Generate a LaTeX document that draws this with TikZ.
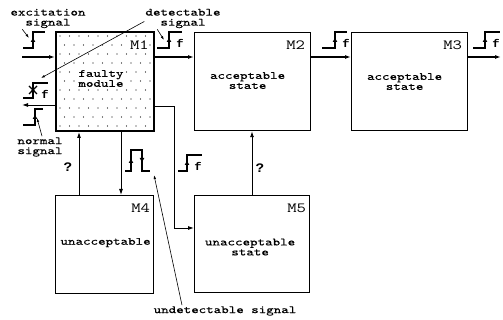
\documentclass[tikz,border=0pt]{standalone}
\usepackage{fontspec}
\setmainfont{Latin Modern Mono}[FakeStretch=1.3,FakeBold=0.25]
\newfontfamily\mfont{Latin Modern Mono}[FakeStretch=1.3]
\newfontfamily\flagfont{Liberation Mono}[FakeStretch=1.1]
\usetikzlibrary{arrows.meta}

\tikzset{
  >={Latex[length=6pt,width=4pt]},
  module/.style={draw,line width=1.2pt,anchor=north west,inner sep=0pt},
  lbl/.style={font=\fontsize{11}{10}\selectfont,align=center,inner sep=1pt},
  mname/.style={font=\mfont\fontsize{14}{14}\selectfont,anchor=base east,inner sep=0pt},
  flag/.style={font=\flagfont\bfseries\fontsize{11}{11}\selectfont,inner sep=0pt},
  qmark/.style={font=\flagfont\bfseries\fontsize{13}{13}\selectfont,inner sep=0pt},
  sig/.style={line width=1.8pt},
  sigtip/.style={-{Latex[length=5pt,width=5pt]},line width=1.2pt},
  lead/.style={-{Latex[length=4pt,width=2.5pt]},line width=0.6pt},
  link/.style={->,line width=0.9pt},
  main/.style={->,line width=1.6pt}
}

\begin{document}
\begin{tikzpicture}[x=1pt,y=-1pt]
  \useasboundingbox (0,0) rectangle (503,320);

  % modules
  \foreach \r in {0,...,10}{
    \foreach \c in {0,...,9}{
      \fill ({60+9.5*\c+4.5*mod(\r,2)},{36+9*\r}) circle (0.6pt);
    }
  }
  \node[module,line width=2pt,minimum width=98pt,minimum height=99pt] (m1) at (55,31) {};
  \node[module,minimum width=116pt,minimum height=98pt] (m2) at (194,32) {};
  \node[module,minimum width=116pt,minimum height=98pt] (m3) at (351,32) {};
  \node[module,minimum width=98pt,minimum height=98pt] (m4) at (55,195) {};
  \node[module,minimum width=115pt,minimum height=97pt] (m5) at (194,195) {};

  \node[lbl,fill=white] (t1) at ([shift={(-4,-3)}]m1.center) {faulty\\module};
  \node[lbl] (t2) at ([shift={(-5,-1)}]m2.center) {acceptable\\state};
  \node[lbl] (t3) at ([shift={(-5,0)}]m3.center) {acceptable\\state};
  \node[lbl] (t4) at ([shift={(1,-2)}]m4.center) {unacceptable};
  \node[lbl] (t5) at ([shift={(-2,3)}]m5.center) {unacceptable\\state};

  \node[mname,fill=white] at ([shift={(-6,19)}]m1.north east) {M1};
  \node[mname] at ([shift={(-6,18)}]m2.north east) {M2};
  \node[mname] at ([shift={(-6,18)}]m3.north east) {M3};
  \node[mname] at ([shift={(-4,18)}]m4.north east) {M4};
  \node[mname] at ([shift={(-4,18)}]m5.north east) {M5};

  % signal path
  \coordinate (in) at (22,57);
  \coordinate (out) at (501,57);
  \draw[main] (in) -- (in -| m1.west);
  \draw[main] (in -| m1.east) -- (in -| m2.west);
  \draw[main] (in -| m2.east) -- (in -| m3.west);
  \draw[main] (in -| m3.east) -- (out);

  \coordinate (nout) at (22,105);
  \draw[link] (nout -| m1.west) -- (nout);

  \coordinate (turn) at (174,106);
  \coordinate (low) at (174,228);
  \draw[link] (turn -| m1.east) -- (turn) -- (low) -- (low -| m5.west);

  \draw[link] ([xshift=24pt]m4.north west) -- ([xshift=24pt]m1.south west);
  \draw[link] ([xshift=66pt]m1.south west) -- ([xshift=66pt]m4.north west);
  \draw[link] ([xshift=58pt]m5.north west) -- ([xshift=58pt]m2.south west);

  \node[qmark] (q4) at (68,167) {?};
  \node[qmark] (q5) at (260,168) {?};

  % step signals
  \foreach \x/\y/\a/\b in {33/48/10/12,169/48/12/13,335/48/13/12,485/48/12/15,187/171/9/15,35/125/12/8}{
    \draw[sig] (\x-\a,\y) -- (\x,\y) -- (\x,\y-16) -- (\x+\b,\y-16);
    \draw[sigtip] (\x,\y-2) -- (\x,\y-11);
  }
  \foreach \x/\y in {169/48,335/48,485/48,187/171}{
    \node[flag] at (\x+11,\y-5) {f};
  }

  % lost signal
  \draw[sig] (23,98) -- (33,98) -- (33,83) -- (48,83);
  \draw[sigtip] (33,96) -- (33,87);
  \draw[line width=1.2pt] (29,86) -- (37,94) (29,94) -- (37,86);
  \node[flag] (fx) at (45,94) {f};
  \coordinate (lost) at (41,78);

  % pulse
  \draw[sig] (125,171) -- (131,171) -- (131,150) -- (142,150) -- (142,171) -- (150,171);
  \draw[sigtip] (131,169) -- (131,158);
  \draw[sigtip] (142,152) -- (142,163);
  \coordinate (pulse) at (154,175);

  % labels
  \node[lbl] (exc) at (48,18.5) {excitation\\signal};
  \node[lbl] (det) at (183,18.5) {detectable\\signal};
  \node[lbl] (nrm) at (40,147) {normal\\signal};
  \node[lbl] (und) at (225,311) {undetectable signal};

  \draw[lead] ([xshift=13pt]exc.south west) -- (29,38);
  \draw[lead] ([xshift=13pt]det.south west) -- (164,40);
  \draw[lead] ([yshift=-3pt]det.west) -- (lost);
  \draw[lead] ([xshift=2pt]nrm.north) -- (37,118);
  \draw[lead] ([xshift=-43pt]und.north) -- (pulse);
\end{tikzpicture}
\end{document}
